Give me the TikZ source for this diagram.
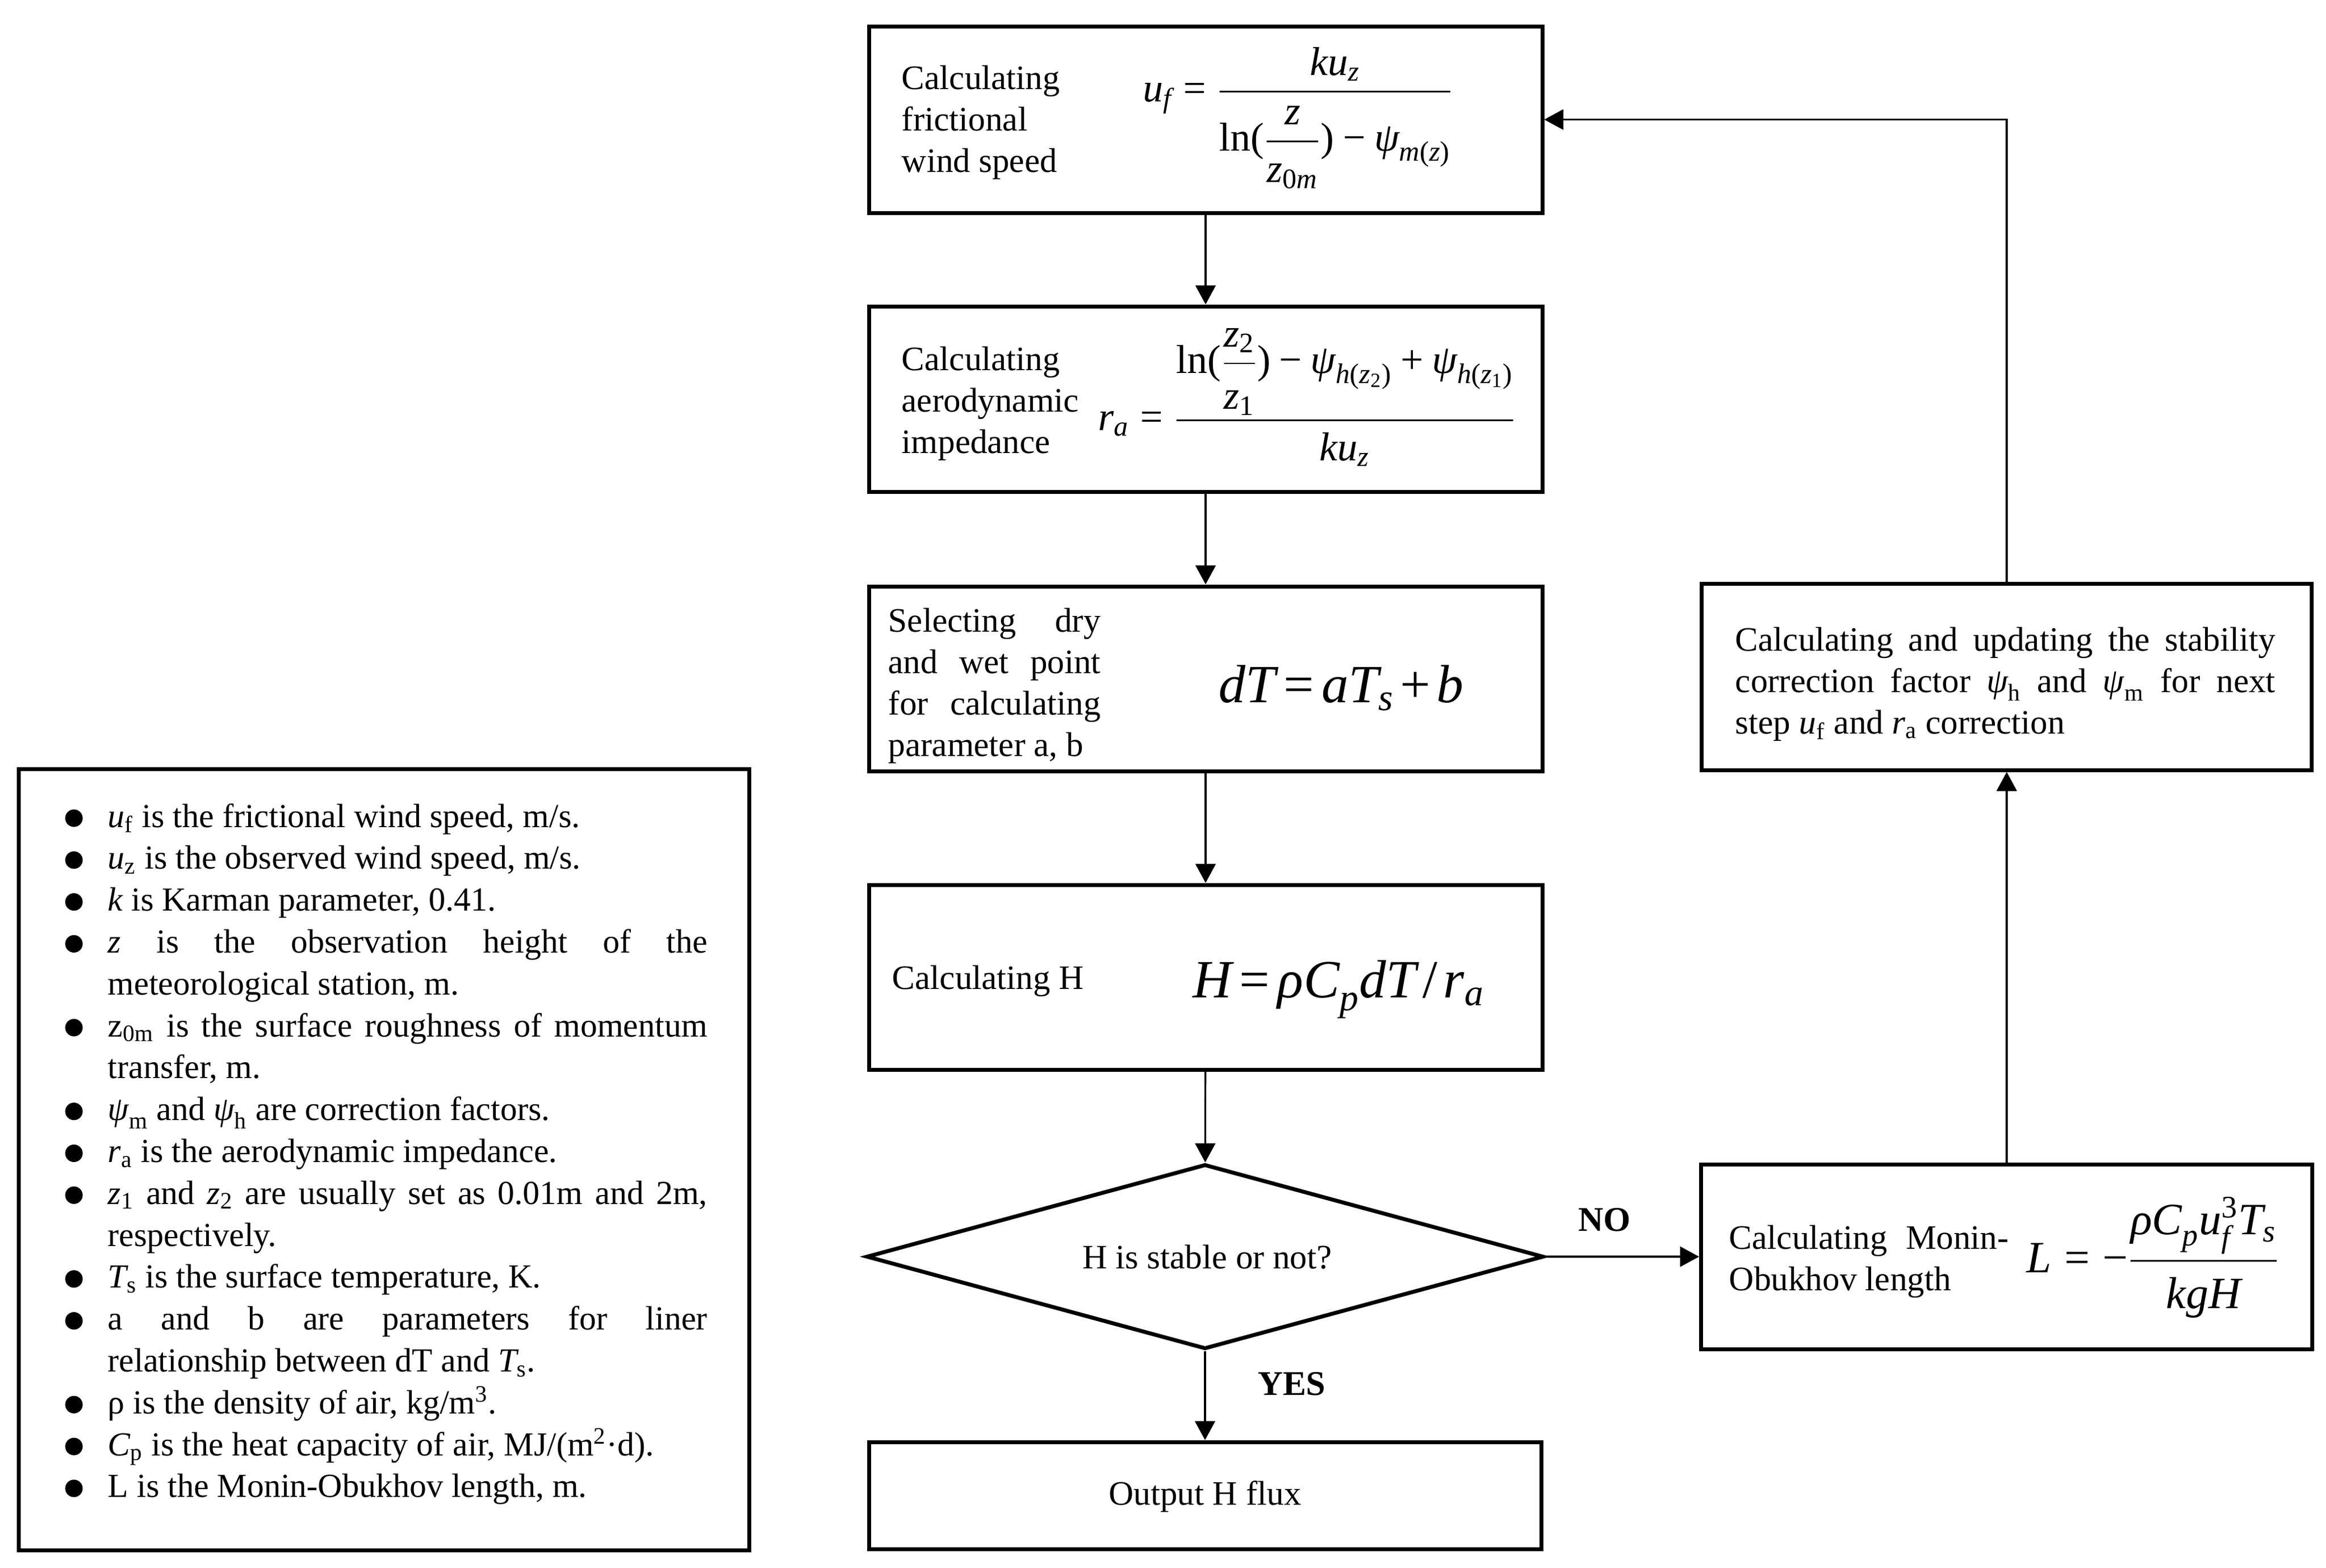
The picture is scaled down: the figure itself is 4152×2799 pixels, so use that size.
\documentclass[tikz,border=0pt]{standalone}
\usepackage{amsmath}
\usepackage{fontspec}
\setmainfont{Liberation Serif}
\usetikzlibrary{arrows.meta,shapes.geometric}
\newcommand\mv[1]{\text{\itshape #1}}
\newcommand\mr[1]{\text{\upshape #1}}
\newcommand\EQ{\mathrel{\text{=}}}
\newcommand\PL{\mathbin{\text{+}}}
\newcommand\MI{\mathbin{\text{−}}}
\newcommand\fs{\fontsize{15.3}{18.5}\selectfont}
\newcommand\tight{\thickmuskip=2.5mu\medmuskip=2mu}
\begin{document}
\begin{tikzpicture}[x=0.25pt,y=-0.25pt,
  box/.style={draw,line width=1.75pt,rectangle,inner sep=0pt},
  conn/.style={line width=0.8pt,-{Triangle[length=8.5pt,width=9pt]}},
  txt/.style={inner sep=0pt,font=\fs,align=left},
  fml/.style={inner sep=0pt,anchor=base west},
  lbl/.style={inner sep=0pt,anchor=base,font=\fontsize{15.5}{18}\selectfont\bfseries}]
\useasboundingbox (0,0) rectangle (4152,2799);
\fill[white] (0,0) rectangle (4152,2799);
% boxes
\node[box,minimum width=300.5pt,minimum height=83.25pt] (b1) at (2152,213.5) {};
\node[box,minimum width=300.5pt,minimum height=82.75pt] (b2) at (2152,712.5) {};
\node[box,minimum width=300.5pt,minimum height=82.5pt] (b3) at (2152,1212) {};
\node[box,minimum width=300.5pt,minimum height=82.5pt] (b4) at (2152,1745) {};
\node[draw,line width=1.75pt,diamond,shape aspect=3.66,inner sep=0pt,minimum width=302.25pt,minimum height=82.5pt] (d) at (2151,2244) {};
\node[box,minimum width=300pt,minimum height=47.75pt] (out) at (2151,2670.5) {};
\node[box,minimum width=272.25pt,minimum height=83.25pt] (upd) at (3582,1208.5) {};
\node[box,minimum width=272.75pt,minimum height=82.5pt] (mo) at (3582,2244) {};
\node[box,minimum width=326pt,minimum height=348.75pt] (leg) at (685,2070.5) {};
% connectors
\draw[conn] (b1) -- (b2);
\draw[conn] (b2) -- (b3);
\draw[conn] (b3) -- (b4);
\draw[conn] (b4) -- (d);
\draw[conn] (d) -- (out);
\draw[conn] (d) -- (mo);
\draw[conn] (mo) -- (upd);
\draw[conn] (upd.north) |- (b1.east);
% labels
\node[lbl] (no) at (2864,2198) {NO};
\node[lbl] (yes) at (2306,2491) {YES};
% texts (base anchor = baseline of the last line)
\node[txt,anchor=base west] (t1) at (1609,307) {Calculating\\frictional\\wind speed};
\node[txt,anchor=base west] (t2) at (1609,809) {Calculating\\aerodynamic\\impedance};
\node[txt,anchor=base west] (t3) at (1585,1350) {\makebox[94.75pt][s]{Selecting dry}\\\makebox[94.75pt][s]{and wet point}\\\makebox[94.75pt][s]{for calculating}\\parameter a, b};
\node[txt,anchor=base west] (t4) at (1592,1766) {Calculating H};
\node[txt,anchor=base] (t5) at (2155,2265) {H is stable or not?};
\node[txt,anchor=base] (t6) at (2151,2687) {Output H flux};
\node[txt,anchor=base west] (t7) at (3097,1310) {\makebox[241pt][s]{Calculating and updating the stability}\\\makebox[241pt][s]{correction factor $\mv{ψ}_{\mr{h}}$ and $\mv{ψ}_{\mr{m}}$ for next}\\step $\mv{u}_{\mr{f}}$ and $\mv{r}_{\mr{a}}$ correction};
\node[txt,anchor=base west] (t8) at (3086,2304) {\makebox[124.75pt][s]{Calculating Monin-}\\Obukhov length};
% formulas
\node[fml,font=\fontsize{18}{22}\selectfont] (f1) at (2040,181) {$\mv{u}_{\mv{f}}\EQ\dfrac{\mv{ku}_{\mv{z}}}{\rule{0pt}{24pt}\mr{ln(}\dfrac{\mv{z}}{\rule{0pt}{16pt}\mv{z}_{\mr{0}\mv{m}}}\mr{)}\MI\mv{ψ}_{\mv{m}\mr{(}\mv{z}\mr{)}}}$};
\node[fml,font=\fontsize{18}{22}\selectfont] (f2) at (1960,768) {$\mv{r}_{\mv{a}}\EQ\dfrac{\mr{ln(}\dfrac{\mv{z}_{\mr{2}}}{\rule{0pt}{18pt}\mv{z}_{\mr{1}}}\mr{)}\MI\mv{ψ}_{\mv{h}\mr{(}\mv{z}_{\mr{2}}\mr{)}}\PL\mv{ψ}_{\mv{h}\mr{(}\mv{z}_{\mr{1}}\mr{)}}}{\rule{0pt}{15.5pt}\mv{ku}_{\mv{z}}}$};
\node[fml,font=\fontsize{24}{28}\selectfont] (f3) at (2175,1254) {$\tight\mv{dT}\EQ\mv{aT}_{\mv{s}}\PL\mv{b}$};
\node[fml,font=\fontsize{24}{28}\selectfont] (f4) at (2129,1781) {$\tight\mv{H}\EQ\mv{ρC}_{\mv{p}}\mv{dT}\mkern2mu\mr{/}\mkern2mu\mv{r}_{\mv{a}}$};
\node[fml,font=\fontsize{20}{24}\selectfont] (f5) at (3617,2272) {$\mv{L}\EQ\MI\dfrac{\mv{ρC}_{\mv{p}}\mv{u}^{\mr{3}}_{\mv{f}}\mv{T}_{\mv{s}}}{\rule{0pt}{18.5pt}\mv{kgH}}$};
% legend
\node[txt,font=\fontsize{15}{18.7}\selectfont,anchor=base west] (lt) at (192,2673.8) {%
$\mv{u}_{\mr{f}}$ is the frictional wind speed, m/s.\\
$\mv{u}_{\mr{z}}$ is the observed wind speed, m/s.\\
$\mv{k}$ is Karman parameter, 0.41.\\
\makebox[267.5pt][s]{$\mv{z}$ is the observation height of the}\\
meteorological station, m.\\
\makebox[267.5pt][s]{z$_{\mr{0m}}$ is the surface roughness of momentum}\\
transfer, m.\\
$\mv{ψ}_{\mr{m}}$ and $\mv{ψ}_{\mr{h}}$ are correction factors.\\
$\mv{r}_{\mr{a}}$ is the aerodynamic impedance.\\
\makebox[267.5pt][s]{$\mv{z}_{\mr{1}}$ and $\mv{z}_{\mr{2}}$ are usually set as 0.01m and 2m,}\\
respectively.\\
$\mv{T}_{\mr{s}}$ is the surface temperature, K.\\
\makebox[267.5pt][s]{a and b are parameters for liner}\\
relationship between dT and $\mv{T}_{\mr{s}}$.\\
ρ is the density of air, kg/m$^{\mr{3}}$.\\
$\mv{C}_{\mr{p}}$ is the heat capacity of air, MJ/(m$^{\mr{2}}$·d).\\
L is the Monin-Obukhov length, m.};
\foreach \k in {0,1,2,3,5,7,8,9,11,12,14,15,16}
  \fill (132,{1477+74.8*\k-16}) circle[radius=3.9pt];
\end{tikzpicture}
\end{document}
